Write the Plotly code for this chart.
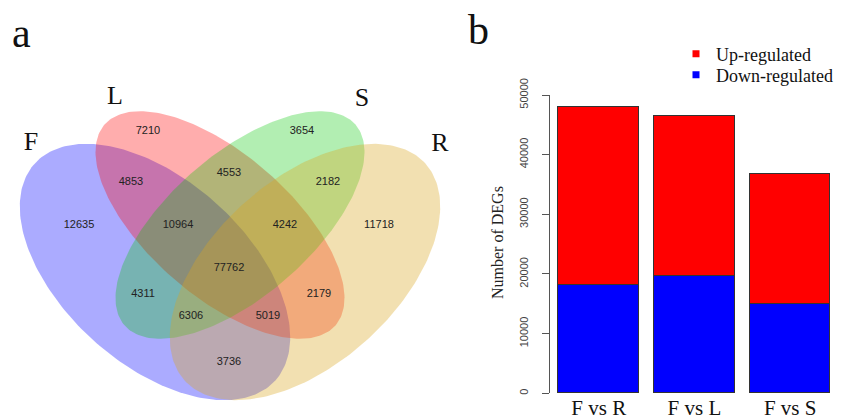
import numpy as np
import plotly.graph_objects as go

W, H = 841, 419

# ---------------- data ----------------
venn_sets = ["F", "L", "S", "R"]
venn_region_names = ["F", "L", "S", "R", "F&L", "L&S", "S&R", "F&L&S", "L&S&R",
                     "F&L&S&R", "F&S", "L&R", "F&S&R", "F&L&R", "F&R"]
venn_counts = [12635, 7210, 3654, 11718, 4853, 4553, 2182, 10964, 4242,
               77762, 4311, 2179, 6306, 5019, 3736]

bar_categories = ["F vs R", "F vs L", "F vs S"]
down_regulated = [18200, 19700, 15000]
up_regulated = [29800, 26800, 21800]
series_names = ["Up-regulated", "Down-regulated"]
y_ticks = [0, 10000, 20000, 30000, 40000, 50000]

# ---------------- layout / style (pixel geometry) ----------------
# ellipse geometry: centre x, centre y, semi-major, semi-minor, angle (deg, image coords)
ellipse_geom = {
    "F": (155, 272, 162, 92, 42),
    "L": (220, 225, 153, 71, 41),
    "S": (240, 225, 153, 71, -41),
    "R": (305, 272, 162, 92, -42),
}
ellipse_fill = {
    "F": "rgba(0,0,255,0.33)",
    "L": "rgba(255,0,0,0.32)",
    "S": "rgba(0,200,0,0.30)",
    "R": "rgba(218,165,32,0.35)",
}
set_label_pos = {"F": (31, 143), "L": (115, 97), "S": (362, 99), "R": (440, 144)}
region_label_pos = {
    "F": (79, 225), "L": (148, 131), "S": (302, 131), "R": (379, 225),
    "F&L": (131, 182), "L&S": (229, 173), "S&R": (328, 182),
    "F&L&S": (178, 225), "L&S&R": (285, 225), "F&L&S&R": (229, 268),
    "F&S": (143, 294), "L&R": (319, 294), "F&S&R": (191, 316),
    "F&L&R": (268, 316), "F&R": (229, 362),
}

fig = go.Figure()

# ---- Venn (axes x / y in pixel units) ----
t = np.linspace(0, 2 * np.pi, 241)
for s in venn_sets:
    cx, cy, a, b, ang = ellipse_geom[s]
    th = np.deg2rad(ang)
    ex = cx + a * np.cos(t) * np.cos(th) - b * np.sin(t) * np.sin(th)
    ey = cy + a * np.cos(t) * np.sin(th) + b * np.sin(t) * np.cos(th)
    fig.add_trace(go.Scatter(x=ex, y=ey, mode="lines", fill="toself",
                             fillcolor=ellipse_fill[s], line=dict(width=0),
                             hoverinfo="skip", showlegend=False,
                             xaxis="x", yaxis="y"))

fig.add_trace(go.Scatter(
    x=[region_label_pos[r][0] for r in venn_region_names],
    y=[region_label_pos[r][1] for r in venn_region_names],
    text=[str(c) for c in venn_counts], mode="text",
    textfont=dict(family="Liberation Sans, Arial", size=11, color="#222"),
    showlegend=False, xaxis="x", yaxis="y"))

fig.add_trace(go.Scatter(
    x=[set_label_pos[s][0] for s in venn_sets],
    y=[set_label_pos[s][1] for s in venn_sets],
    text=venn_sets, mode="text",
    textfont=dict(family="Liberation Serif, Times New Roman", size=26, color="#111"),
    showlegend=False, xaxis="x", yaxis="y"))

# ---- Bars ----
fig.add_trace(go.Bar(x=bar_categories, y=down_regulated, name=series_names[1],
                     marker=dict(color="#0000FF", line=dict(color="#333", width=1)),
                     width=0.843, showlegend=False, xaxis="x2", yaxis="y2"))
fig.add_trace(go.Bar(x=bar_categories, y=up_regulated, name=series_names[0],
                     marker=dict(color="#FF0000", line=dict(color="#333", width=1)),
                     width=0.843, showlegend=False, xaxis="x2", yaxis="y2"))
# legend entries (small squares like the R legend), one legend per row
for nm, col, lg in [(series_names[0], "#FF0000", "legend"),
                    (series_names[1], "#0000FF", "legend2")]:
    fig.add_trace(go.Scatter(x=[None], y=[None], mode="markers", name=nm,
                             marker=dict(symbol="square", size=7, color=col),
                             legend=lg, xaxis="x2", yaxis="y2"))

def px_x(p):
    return p / W

def px_y(p):
    return (H - p) / H

bar_left_px, bar_right_px = 549.3, 840
y0_px, y50_px = 393.3, 95

legend_style = dict(xanchor="left", yanchor="middle", borderwidth=0,
                    bgcolor="rgba(0,0,0,0)", itemwidth=30,
                    font=dict(family="Liberation Serif, Times New Roman", size=18, color="#111"))

serif = "Liberation Serif, Times New Roman"

fig.update_layout(
    template="none",
    width=W, height=H, margin=dict(l=0, r=0, t=0, b=0, autoexpand=False),
    paper_bgcolor="white", plot_bgcolor="rgba(0,0,0,0)",
    barmode="stack", bargap=0,
    xaxis=dict(domain=[0, 460 / W], range=[0, 460], visible=False, automargin=False),
    yaxis=dict(domain=[0, 1], range=[H, 0], visible=False, automargin=False),
    xaxis2=dict(domain=[px_x(bar_left_px), px_x(bar_right_px)],
                range=[-0.516, 2.52], anchor="y2", showline=False,
                ticks="", showgrid=False, zeroline=False, automargin=False,
                ticklabelstandoff=0,
                tickfont=dict(family=serif, size=21, color="#111")),
    yaxis2=dict(domain=[px_y(y0_px), px_y(y50_px)], range=[0, 50000],
                anchor="free", position=px_x(bar_left_px), automargin=False,
                tickvals=y_ticks, ticktext=[str(v) for v in y_ticks],
                showline=True, linecolor="#555", linewidth=1,
                ticks="outside", ticklen=7, tickcolor="#555",
                tickangle=-90, ticklabelstandoff=10,
                showgrid=False, zeroline=False,
                tickfont=dict(family="Liberation Sans, Arial", size=11, color="#444")),
    legend=dict(x=px_x(676), y=px_y(54), **legend_style),
    legend2=dict(x=px_x(676), y=px_y(75), **legend_style),
    annotations=[
        dict(text="a", x=px_x(21), y=px_y(33), xref="paper", yref="paper",
             xanchor="center", yanchor="middle",
             showarrow=False, font=dict(family=serif, size=42, color="#111")),
        dict(text="b", x=px_x(478), y=px_y(30), xref="paper", yref="paper",
             xanchor="center", yanchor="middle",
             showarrow=False, font=dict(family=serif, size=42, color="#111")),
        dict(text="Number of DEGs", x=px_x(498), y=px_y(243), xref="paper", yref="paper",
             xanchor="center", yanchor="middle", textangle=-90, showarrow=False,
             font=dict(family=serif, size=16, color="#222")),
    ],
)

fig.write_html("out.html", config={"displayModeBar": False},
               post_script="document.body.style.margin='0';document.body.style.overflow='hidden';")
